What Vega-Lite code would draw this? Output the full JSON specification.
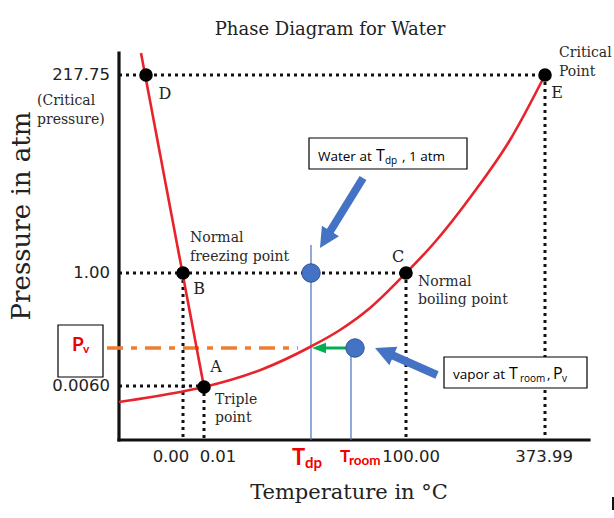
{
  "$schema": "https://vega.github.io/schema/vega-lite/v6.json",
  "width": 614,
  "height": 518,
  "autosize": {"type": "fit", "contains": "padding"},
  "padding": 0,
  "background": "white",
  "config": {"view": {"stroke": null}},
  "datasets": {
    "guides": [
      {"u": 0, "v": 365, "u2": 426, "v2": 365},
      {"u": 426, "v": 365, "u2": 426, "v2": 0},
      {"u": 0, "v": 167, "u2": 287, "v2": 167},
      {"u": 64, "v": 167, "u2": 64, "v2": 0},
      {"u": 287, "v": 167, "u2": 287, "v2": 0},
      {"u": 0, "v": 54, "u2": 85, "v2": 54},
      {"u": 85, "v": 54, "u2": 85, "v2": 0}
    ],
    "axes": [
      {"u": 0, "v": 387, "u2": 0, "v2": 0},
      {"u": 0, "v": 0, "u2": 470, "v2": 0}
    ],
    "edge": [
      {"u": 494, "v": -57, "u2": 494, "v2": -70}
    ],
    "temps": [
      {"u": 192, "v": 195, "u2": 192, "v2": 0},
      {"u": 232, "v": 92, "u2": 232, "v2": 0}
    ],
    "pv": [
      {"u": -12, "v": 92, "u2": 179, "v2": 92}
    ],
    "curves": [
      {"curve": "melting", "u": 22, "v": 387},
      {"curve": "melting", "u": 85, "v": 53},
      {"curve": "vapor", "u": 0, "v": 38},
      {"curve": "vapor", "u": 61, "v": 48},
      {"curve": "vapor", "u": 85, "v": 53},
      {"curve": "vapor", "u": 144, "v": 71},
      {"curve": "vapor", "u": 191, "v": 93},
      {"curve": "vapor", "u": 221, "v": 110},
      {"curve": "vapor", "u": 251, "v": 132},
      {"curve": "vapor", "u": 287, "v": 167},
      {"curve": "vapor", "u": 316, "v": 198},
      {"curve": "vapor", "u": 353, "v": 245},
      {"curve": "vapor", "u": 391, "v": 300},
      {"curve": "vapor", "u": 426, "v": 365}
    ],
    "states": [
      {"name": "D", "u": 27, "v": 365},
      {"name": "E", "u": 426, "v": 365},
      {"name": "B", "u": 64, "v": 167},
      {"name": "A", "u": 85, "v": 53},
      {"name": "C", "u": 287, "v": 167}
    ],
    "water": [
      {"state": "water at Tdp, 1 atm", "u": 192, "v": 167},
      {"state": "vapor at Troom, Pv", "u": 236, "v": 92}
    ],
    "cooling": [
      {"u": 232, "v": 92, "u2": 201, "v2": 92, "heading": 270, "hu": 200, "hv": 92}
    ],
    "pointers": [
      {"u": 244, "v": 262, "u2": 207, "v2": 202, "heading": 211.6, "hu": 206.2, "hv": 200.5},
      {"u": 318, "v": 65, "u2": 266, "v2": 88, "heading": 293.5, "hu": 265.2, "hv": 88}
    ],
    "boxes": [
      {"u": 190, "v": 302, "u2": 348, "v2": 271},
      {"u": 325, "v": 83, "u2": 468, "v2": 52},
      {"u": -61, "v": 115, "u2": -16, "v2": 63}
    ],
    "headings": [
      {"text": "Phase Diagram for Water", "role": "title", "u": 211, "v": 410},
      {"text": "Temperature in °C", "role": "xtitle", "u": 230, "v": -53},
      {"text": "Pressure in atm", "role": "ytitle", "u": -97, "v": 224}
    ],
    "letters": [
      {"text": "D", "u": 46, "v": 346},
      {"text": "E", "u": 438, "v": 347},
      {"text": "B", "u": 80, "v": 151},
      {"text": "A", "u": 97, "v": 73},
      {"text": "C", "u": 279, "v": 183}
    ],
    "notes": [
      {"text": "Normal", "u": 71, "v": 202},
      {"text": "freezing point", "u": 71, "v": 183},
      {"text": "Normal", "u": 299, "v": 158},
      {"text": "boiling point", "u": 299, "v": 140},
      {"text": "Triple", "u": 96, "v": 40},
      {"text": "point", "u": 96, "v": 22},
      {"text": "Critical", "u": 440, "v": 387},
      {"text": "Point", "u": 440, "v": 368},
      {"text": "(Critical", "u": -82, "v": 339},
      {"text": "pressure)", "u": -82, "v": 320}
    ],
    "yticks": [
      {"text": "217.75", "u": -9, "v": 365},
      {"text": "1.00", "u": -9, "v": 167},
      {"text": "0.0060", "u": -9, "v": 54}
    ],
    "xticks": [
      {"text": "0.00", "u": 52, "v": -17},
      {"text": "0.01", "u": 99, "v": -17},
      {"text": "100.00", "u": 292, "v": -17},
      {"text": "373.99", "u": 425, "v": -17}
    ],
    "callouts": [
      {"text": "Water at", "role": "main", "u": 199, "v": 279},
      {"text": "T", "role": "big", "u": 257, "v": 279},
      {"text": "dp", "role": "sub", "u": 266, "v": 276},
      {"text": ", 1 atm", "role": "main", "u": 283, "v": 279},
      {"text": "vapor at", "role": "main", "u": 334, "v": 61},
      {"text": "T", "role": "big", "u": 390, "v": 61},
      {"text": "room", "role": "sub", "u": 401, "v": 58},
      {"text": ",", "role": "main", "u": 428, "v": 61},
      {"text": "P", "role": "big", "u": 434, "v": 61},
      {"text": "v", "role": "sub", "u": 443, "v": 58}
    ],
    "redLabels": [
      {"text": "P", "role": "pv", "u": -47, "v": 89},
      {"text": "v", "role": "pvsub", "u": -36, "v": 87},
      {"text": "T", "role": "tdp", "u": 173, "v": -25},
      {"text": "dp", "role": "tdpsub", "u": 186, "v": -28},
      {"text": "T", "role": "troom", "u": 221, "v": -22},
      {"text": "room", "role": "troomsub", "u": 230, "v": -25}
    ]
  },
  "encoding": {
    "x": {"field": "u", "type": "quantitative", "scale": {"domain": [-119, 495], "nice": false, "zero": false}, "axis": null},
    "y": {"field": "v", "type": "quantitative", "scale": {"domain": [-78, 440], "nice": false, "zero": false}, "axis": null}
  },
  "layer": [
    {
      "data": {"name": "guides"},
      "mark": {"type": "rule", "color": "#111111", "strokeWidth": 3, "strokeDash": [3, 4]},
      "encoding": {"x2": {"field": "u2"}, "y2": {"field": "v2"}}
    },
    {
      "data": {"name": "axes"},
      "mark": {"type": "rule", "color": "#111111", "strokeWidth": 3.2, "strokeCap": "square"},
      "encoding": {"x2": {"field": "u2"}, "y2": {"field": "v2"}}
    },
    {
      "data": {"name": "edge"},
      "mark": {"type": "rule", "color": "#111111", "strokeWidth": 2},
      "encoding": {"x2": {"field": "u2"}, "y2": {"field": "v2"}}
    },
    {
      "data": {"name": "temps"},
      "mark": {"type": "rule", "color": "#4472c4", "strokeWidth": 1.2},
      "encoding": {"x2": {"field": "u2"}, "y2": {"field": "v2"}}
    },
    {
      "data": {"name": "pv"},
      "mark": {"type": "rule", "color": "#ed7d31", "strokeWidth": 3.5, "strokeDash": [16, 8, 6, 8]},
      "encoding": {"x2": {"field": "u2"}, "y2": {"field": "v2"}}
    },
    {
      "data": {"name": "curves"},
      "mark": {"type": "line", "color": "#e8232b", "strokeWidth": 2.6, "interpolate": "monotone"},
      "encoding": {"detail": {"field": "curve", "type": "nominal"}}
    },
    {
      "data": {"name": "states"},
      "mark": {"type": "point", "filled": true, "shape": "circle", "size": 185, "color": "#000000", "opacity": 1}
    },
    {
      "data": {"name": "cooling"},
      "mark": {"type": "rule", "color": "#00b050", "strokeWidth": 3},
      "encoding": {"x2": {"field": "u2"}, "y2": {"field": "v2"}}
    },
    {
      "data": {"name": "cooling"},
      "mark": {"type": "point", "filled": true, "shape": "M0,-1L0.75,1L-0.75,1Z", "size": 196, "color": "#00b050", "opacity": 1},
      "encoding": {
        "x": {"field": "hu", "type": "quantitative"},
        "y": {"field": "hv", "type": "quantitative"},
        "angle": {"field": "heading", "type": "quantitative", "scale": null}
      }
    },
    {
      "data": {"name": "water"},
      "mark": {"type": "point", "filled": true, "shape": "circle", "size": 340, "fill": "#4472c4", "stroke": "#2f528f", "strokeWidth": 1, "opacity": 1}
    },
    {
      "data": {"name": "pointers"},
      "mark": {"type": "rule", "color": "#4472c4", "strokeWidth": 8, "strokeCap": "butt"},
      "encoding": {"x2": {"field": "u2"}, "y2": {"field": "v2"}}
    },
    {
      "data": {"name": "pointers"},
      "mark": {"type": "point", "filled": true, "shape": "M0,-1L1,1L-1,1Z", "size": 400, "color": "#4472c4", "opacity": 1},
      "encoding": {
        "x": {"field": "hu", "type": "quantitative"},
        "y": {"field": "hv", "type": "quantitative"},
        "angle": {"field": "heading", "type": "quantitative", "scale": null}
      }
    },
    {
      "data": {"name": "boxes"},
      "mark": {"type": "rect", "fill": "#ffffff", "stroke": "#000000", "strokeWidth": 1.2},
      "encoding": {"x2": {"field": "u2"}, "y2": {"field": "v2"}}
    },
    {
      "data": {"name": "headings"},
      "transform": [{"filter": "datum.role === 'title'"}],
      "mark": {"type": "text", "font": "DejaVu Serif", "fontSize": 18, "align": "center", "baseline": "middle", "color": "#222222"},
      "encoding": {"text": {"field": "text"}}
    },
    {
      "data": {"name": "headings"},
      "transform": [{"filter": "datum.role === 'xtitle'"}],
      "mark": {"type": "text", "font": "DejaVu Serif", "fontSize": 21, "align": "center", "baseline": "middle", "color": "#222222"},
      "encoding": {"text": {"field": "text"}}
    },
    {
      "data": {"name": "headings"},
      "transform": [{"filter": "datum.role === 'ytitle'"}],
      "mark": {"type": "text", "font": "DejaVu Serif", "fontSize": 26, "align": "center", "baseline": "middle", "angle": 270, "color": "#222222"},
      "encoding": {"text": {"field": "text"}}
    },
    {
      "data": {"name": "letters"},
      "mark": {"type": "text", "font": "DejaVu Serif", "fontSize": 16, "align": "center", "baseline": "middle", "color": "#222222"},
      "encoding": {"text": {"field": "text"}}
    },
    {
      "data": {"name": "notes"},
      "mark": {"type": "text", "font": "DejaVu Serif", "fontSize": 14, "align": "left", "baseline": "middle", "color": "#2a2a2a"},
      "encoding": {"text": {"field": "text"}}
    },
    {
      "data": {"name": "yticks"},
      "mark": {"type": "text", "font": "DejaVu Sans", "fontSize": 16.5, "align": "right", "baseline": "middle", "color": "#222222"},
      "encoding": {"text": {"field": "text"}}
    },
    {
      "data": {"name": "xticks"},
      "mark": {"type": "text", "font": "DejaVu Sans", "fontSize": 16.5, "align": "center", "baseline": "middle", "color": "#222222"},
      "encoding": {"text": {"field": "text"}}
    },
    {
      "data": {"name": "callouts"},
      "transform": [{"filter": "datum.role === 'main'"}],
      "mark": {"type": "text", "font": "Open Sans", "fontSize": 13.5, "align": "left", "baseline": "alphabetic", "color": "#000000"},
      "encoding": {"text": {"field": "text"}}
    },
    {
      "data": {"name": "callouts"},
      "transform": [{"filter": "datum.role === 'big'"}],
      "mark": {"type": "text", "font": "Open Sans", "fontSize": 16, "align": "left", "baseline": "alphabetic", "color": "#000000"},
      "encoding": {"text": {"field": "text"}}
    },
    {
      "data": {"name": "callouts"},
      "transform": [{"filter": "datum.role === 'sub'"}],
      "mark": {"type": "text", "font": "Open Sans", "fontSize": 10, "align": "left", "baseline": "alphabetic", "color": "#000000"},
      "encoding": {"text": {"field": "text"}}
    },
    {
      "data": {"name": "redLabels"},
      "transform": [{"filter": "datum.role === 'pv'"}],
      "mark": {"type": "text", "font": "Lato", "fontWeight": "bold", "fontSize": 19, "align": "left", "baseline": "alphabetic", "color": "#f00000"},
      "encoding": {"text": {"field": "text"}}
    },
    {
      "data": {"name": "redLabels"},
      "transform": [{"filter": "datum.role === 'pvsub'"}],
      "mark": {"type": "text", "font": "Lato", "fontWeight": "bold", "fontSize": 12, "align": "left", "baseline": "alphabetic", "color": "#f00000"},
      "encoding": {"text": {"field": "text"}}
    },
    {
      "data": {"name": "redLabels"},
      "transform": [{"filter": "datum.role === 'tdp'"}],
      "mark": {"type": "text", "font": "Lato", "fontWeight": "bold", "fontSize": 22, "align": "left", "baseline": "alphabetic", "color": "#f00000"},
      "encoding": {"text": {"field": "text"}}
    },
    {
      "data": {"name": "redLabels"},
      "transform": [{"filter": "datum.role === 'tdpsub'"}],
      "mark": {"type": "text", "font": "Lato", "fontWeight": "bold", "fontSize": 15, "align": "left", "baseline": "alphabetic", "color": "#f00000"},
      "encoding": {"text": {"field": "text"}}
    },
    {
      "data": {"name": "redLabels"},
      "transform": [{"filter": "datum.role === 'troom'"}],
      "mark": {"type": "text", "font": "Lato", "fontWeight": "bold", "fontSize": 17, "align": "left", "baseline": "alphabetic", "color": "#f00000"},
      "encoding": {"text": {"field": "text"}}
    },
    {
      "data": {"name": "redLabels"},
      "transform": [{"filter": "datum.role === 'troomsub'"}],
      "mark": {"type": "text", "font": "Lato", "fontWeight": "bold", "fontSize": 13.5, "align": "left", "baseline": "alphabetic", "color": "#f00000"},
      "encoding": {"text": {"field": "text"}}
    }
  ]
}
